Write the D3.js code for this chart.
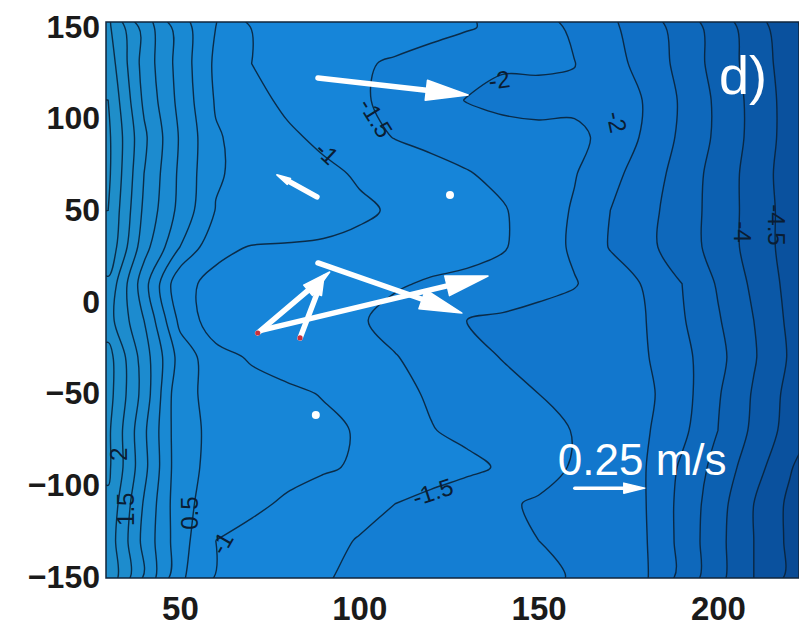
<!DOCTYPE html>
<html>
<head>
<meta charset="utf-8">
<script src="https://cdn.jsdelivr.net/npm/d3@7"></script>
<style>
  body { margin: 0; background: #fff; }
  text { font-family: "Liberation Sans", Arial, sans-serif; }
</style>
</head>
<body>
<svg id="chart" width="799" height="629"></svg>
<script>
// grid nodes (cross-shore x, alongshore y)
const xNodes = [30, 40, 50, 60, 70, 80, 90, 100, 110, 120, 130, 140, 150, 160, 170, 180, 190, 200, 210, 220, 230];
const yNodes = [150, 130, 110, 90, 70, 50, 30, 10, -10, -30, -50, -70, -90, -110, -130, -150];

// depth, one row per y node
const row150  = [2.6, 1.3, 0.25, -0.5, -1.02, -1.1, -1.17, -1.24, -1.3, -1.38, -1.46, -1.6, -1.83, -2.08, -2.41, -2.76, -3.2, -3.72, -4.25, -4.84, -5.4];
const row130  = [2.8, 1.3, 0.3, -0.6, -1.0, -1.1, -1.25, -1.45, -1.55, -1.65, -1.8, -1.95, -1.93, -1.99, -2.3, -2.7, -3.15, -3.7, -4.2, -4.75, -5.3];
const row110  = [3.0, 1.4, 0.35, -0.55, -0.85, -1.1, -1.3, -1.45, -1.6, -1.8, -2.02, -2.12, -2.15, -2.08, -2.1, -2.55, -3.07, -3.6, -4.15, -4.7, -5.3];
const row90   = [3.1, 1.6, 0.45, -0.45, -0.7, -0.92, -1.1, -1.33, -1.52, -1.62, -1.72, -1.82, -1.87, -1.92, -2.1, -2.6, -3.1, -3.6, -4.15, -4.7, -5.3];
const row70   = [3.1, 1.5, 0.4, -0.45, -0.65, -0.78, -0.9, -1.05, -1.2, -1.35, -1.47, -1.62, -1.8, -1.97, -2.35, -2.75, -3.2, -3.7, -4.2, -4.75, -5.3];
const row50   = [3.0, 1.4, 0.35, -0.52, -0.6, -0.7, -0.8, -0.93, -1.05, -1.2, -1.32, -1.46, -1.73, -2.05, -2.5, -2.85, -3.25, -3.7, -4.2, -4.7, -5.3];
const row30   = [2.9, 1.2, 0.0, -0.9, -1.02, -1.04, -1.06, -1.1, -1.2, -1.28, -1.36, -1.46, -1.74, -2.08, -2.53, -2.88, -3.25, -3.7, -4.2, -4.7, -5.3];
const row10   = [2.4, 0.7, -0.9, -1.1, -1.2, -1.28, -1.35, -1.42, -1.45, -1.55, -1.6, -1.7, -1.85, -1.97, -2.25, -2.55, -3.0, -3.55, -4.1, -4.65, -5.3];
const rowM10  = [2.2, 1.0, -0.63, -1.3, -1.34, -1.37, -1.4, -1.45, -1.65, -1.85, -2.0, -2.08, -2.15, -2.2, -2.3, -2.5, -2.95, -3.45, -4.0, -4.6, -5.2];
const rowM30  = [2.7, 1.25, -0.2, -0.82, -1.06, -1.16, -1.26, -1.37, -1.48, -1.66, -1.85, -2.02, -2.12, -2.22, -2.33, -2.47, -2.85, -3.35, -3.95, -4.55, -5.1];
const rowM50  = [2.7, 1.3, -0.4, -0.6, -0.8, -0.93, -1.02, -1.2, -1.38, -1.55, -1.7, -1.85, -2.0, -2.13, -2.25, -2.4, -2.8, -3.45, -4.05, -4.65, -5.2];
const rowM70  = [2.6, 1.1, -0.35, -0.6, -0.68, -0.8, -0.92, -1.03, -1.25, -1.48, -1.6, -1.72, -1.85, -2.02, -2.25, -2.45, -2.88, -3.5, -4.1, -4.7, -5.25];
const rowM90  = [2.6, 1.15, -0.35, -0.62, -0.75, -0.85, -0.95, -1.05, -1.18, -1.3, -1.4, -1.55, -1.8, -2.05, -2.3, -2.5, -3.08, -3.68, -4.28, -4.95, -5.5];
const rowM110 = [2.4, 0.95, -0.35, -0.72, -0.9, -1.07, -1.2, -1.38, -1.5, -1.63, -1.77, -1.93, -2.06, -2.15, -2.3, -2.5, -3.15, -3.8, -4.5, -5.1, -5.7];
const rowM130 = [2.3, 0.85, -0.3, -1.0, -1.15, -1.28, -1.4, -1.52, -1.62, -1.73, -1.85, -1.95, -2.0, -2.1, -2.25, -2.48, -3.15, -3.85, -4.5, -5.1, -5.7];
const rowM150 = [2.4, 0.95, -0.4, -1.03, -1.17, -1.32, -1.48, -1.55, -1.63, -1.72, -1.8, -1.88, -1.94, -2.02, -2.25, -2.46, -3.15, -3.85, -4.5, -5.1, -5.7];

const levels = [-6, -5.5, -5, -4.5, -4, -3.5, -3, -2.5, -2, -1.5, -1, -0.5, 0, 0.5, 1, 1.5, 2, 2.5, 3];

// contour labels
const labelText  = ["-1", "-1.5", "-2", "-2", "-4", "-4.5", "-1.5", "-1", "0.5", "2", "1.5"];
const labelX     = [91.0, 104.6, 139.0, 171.8, 206.7, 216.4, 120.5, 61.7, 52.8, 32.9, 35.0];
const labelY     = [81.3, 100.4, 121.1, 98.2, 38.2, 42.0, -103.6, -131.5, -115.1, -83.0, -113.0];
const labelAngle = [43, 58, -8, 78, 90, 90, -18, -60, -90, -90, -90];

// current vectors (origin in m, u/v in m/s)
const qx = [88.5, 88.2, 71.7, 83.5, 88.5, 72.9];
const qy = [122.2, 57.3, -16.9, -19.6, 21.3, -15.3];
const qu = [0.536, -0.143, 0.257, 0.086, 0.514, 0.807];
const qv = [-0.061, 0.079, 0.218, 0.225, -0.179, 0.193];
const redDots = [2, 3];

// instruments without a vector
const dotX = [125.3, 87.9];
const dotY = [58.4, -61.6];

const xTicks = [50, 100, 150, 200];
const yTicks = [-150, -100, -50, 0, 50, 100, 150];
const refSpeed = 0.25;

const grid = [row150, row130, row110, row90, row70, row50, row30, row10,
  rowM10, rowM30, rowM50, rowM70, rowM90, rowM110, rowM130, rowM150];

const svg = d3.select("#chart");
const plotLeft = 106, plotTop = 22, plotRight = 799, plotBottom = 578;

const x = d3.scaleLinear().domain([29.4, 222.6]).range([plotLeft, plotRight]);
const y = d3.scaleLinear().domain([-150.5, 152.7]).range([plotBottom, plotTop]);
const speed = d3.scaleLinear().domain([0, refSpeed]).range([0, 70]);

const color = d3.scaleLinear()
  .domain([-5.5, -4, -2.5, -1.25, 0.5, 3])
  .range(["#08468f", "#0b5cac", "#1173ca", "#1685d9", "#1a8ad2", "#1f8ec8"]);

svg.append("defs").append("clipPath").attr("id", "plot-clip")
  .append("rect")
  .attr("x", plotLeft).attr("y", plotTop)
  .attr("width", plotRight - plotLeft).attr("height", plotBottom - plotTop);

const plot = svg.append("g").attr("clip-path", "url(#plot-clip)");

const nx = xNodes.length, ny = yNodes.length;
const stepX = xNodes[1] - xNodes[0], stepY = yNodes[1] - yNodes[0];
const values = grid.flat();

const contours = d3.contours().size([nx, ny]).thresholds(levels)(values);

// grid coordinates -> pixels
const toPx = (p) => [x(xNodes[0] + (p[0] - 0.5) * stepX), y(yNodes[0] + (p[1] - 0.5) * stepY)];
const ringLine = d3.line().curve(d3.curveCatmullRomClosed.alpha(0.5));
const ringPath = (ring) => {
  let pts = ring.map(toPx);
  const a = pts[0], b = pts[pts.length - 1];
  if (a[0] === b[0] && a[1] === b[1]) pts = pts.slice(0, -1);
  return ringLine(pts);
};
const mpPath = (mp) => mp.coordinates.map(poly => poly.map(ringPath).join("")).join("");

plot.append("rect")
  .attr("x", plotLeft).attr("y", plotTop)
  .attr("width", plotRight - plotLeft).attr("height", plotBottom - plotTop)
  .attr("fill", color(levels[0] - 0.25));

plot.append("g").selectAll("path")
  .data(contours)
  .join("path")
  .attr("d", mpPath)
  .attr("fill", d => color(d.value + 0.25))
  .attr("fill-rule", "evenodd");

plot.append("g").selectAll("path")
  .data(contours.filter(d => d.value > levels[0]))
  .join("path")
  .attr("d", mpPath)
  .attr("fill", "none")
  .attr("stroke", "#0a2238")
  .attr("stroke-width", 1.4)
  .attr("stroke-opacity", 0.9);

// contour labels
plot.append("g").selectAll("text")
  .data(labelText)
  .join("text")
  .attr("transform", (d, i) => `translate(${x(labelX[i])},${y(labelY[i])}) rotate(${labelAngle[i]})`)
  .attr("text-anchor", "middle")
  .attr("dy", "0.35em")
  .attr("font-size", 24)
  .attr("fill", "#0a1d33")
  .text(d => d);

// white vectors
function arrow(g, x0, y0, dx, dy, w) {
  const len = Math.hypot(dx, dy);
  const ux = dx / len, uy = dy / len;
  const hl = Math.min(0.3 * len, 42), hw = hl * 0.24;
  const bx = x0 + dx - ux * hl, by = y0 + dy - uy * hl;
  g.append("line")
    .attr("x1", x0).attr("y1", y0).attr("x2", bx).attr("y2", by)
    .attr("stroke", "#fff").attr("stroke-width", w).attr("stroke-linecap", "round");
  g.append("path")
    .attr("d", `M${x0 + dx},${y0 + dy}L${bx - uy * hw},${by + ux * hw}L${bx + uy * hw},${by - ux * hw}Z`)
    .attr("fill", "#fff").attr("stroke", "#fff").attr("stroke-width", 1.5)
    .attr("stroke-linejoin", "round");
}

const vec = plot.append("g");
qx.forEach((_, i) => {
  arrow(vec, x(qx[i]), y(qy[i]), speed(qu[i]), -speed(qv[i]), 5.5);
});

plot.append("g").selectAll("circle.red")
  .data(redDots)
  .join("circle")
  .attr("cx", i => x(qx[i])).attr("cy", i => y(qy[i]))
  .attr("r", 2.6).attr("fill", "#c8303c");

plot.append("g").selectAll("circle")
  .data(dotX)
  .join("circle")
  .attr("cx", (d, i) => x(dotX[i])).attr("cy", (d, i) => y(dotY[i]))
  .attr("r", 4).attr("fill", "#fff");

// reference vector
const refX = 160.1, refY = -101.5;
arrow(plot, x(refX), y(refY), speed(refSpeed), 0, 3.5);
plot.append("text")
  .attr("x", x(refX) - 17).attr("y", y(refY) - 13)
  .attr("font-size", 44)
  .attr("fill", "#fff")
  .text("0.25 m/s");

// panel label
plot.append("text")
  .attr("x", 719).attr("y", 94)
  .attr("font-size", 54)
  .attr("fill", "#fff")
  .text("d)");

// frame
svg.append("rect")
  .attr("x", plotLeft).attr("y", plotTop)
  .attr("width", plotRight - plotLeft).attr("height", plotBottom - plotTop)
  .attr("fill", "none").attr("stroke", "#10263d").attr("stroke-width", 1.5);

// axes
const xAxis = svg.append("g")
  .attr("transform", `translate(0,${plotBottom})`)
  .call(d3.axisBottom(x).tickValues(xTicks).tickSize(0).tickPadding(19));
xAxis.select(".domain").remove();
xAxis.selectAll("text")
  .attr("font-size", 33)
  .attr("font-weight", "bold")
  .attr("font-family", "'Liberation Sans', Arial, sans-serif")
  .attr("fill", "#1a1a1a");

const yAxis = svg.append("g")
  .attr("transform", `translate(${plotLeft},0)`)
  .call(d3.axisLeft(y).tickValues(yTicks).tickSize(0).tickPadding(6));
yAxis.select(".domain").remove();
yAxis.selectAll("text")
  .attr("font-size", 32)
  .attr("font-weight", "bold")
  .attr("font-family", "'Liberation Sans', Arial, sans-serif")
  .attr("fill", "#1a1a1a");
</script>
</body>
</html>
